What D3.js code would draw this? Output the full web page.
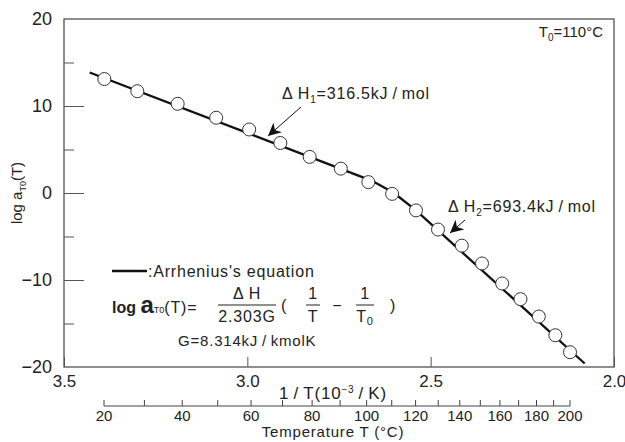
<!DOCTYPE html>
<html lang="en">
<head>
<meta charset="utf-8">
<title>Arrhenius shift factor</title>
<script src="https://d3js.org/d3.v7.min.js"></script>
<style>
  body { margin: 0; background: #fff; }
  text { font-family: "Liberation Sans", Arial, sans-serif; fill: #222; }
  .frame { fill: none; stroke: #444; stroke-width: 1.2; }
  .tick line { stroke: #555; }
  path.domain { display: none; }
  .wide { letter-spacing: 0.8px; }
</style>
</head>
<body>
<div id="chart"></div>
<script>
// values
const invT = [3.39, 3.30, 3.19, 3.085, 2.995, 2.91, 2.83, 2.745, 2.67, 2.605, 2.54, 2.48, 2.415, 2.36, 2.305, 2.255, 2.205, 2.16, 2.12];
const logA = [13.1, 11.7, 10.25, 8.65, 7.3, 5.75, 4.15, 2.8, 1.25, -0.1, -2.0, -4.2, -6.05, -8.1, -10.4, -12.2, -14.2, -16.35, -18.3];
// Arrhenius fit line (two slopes)
const fitInvT = [3.43, 2.66, 2.60, 2.54, 2.08];
const fitLogA = [13.85, 1.4, 0.0, -2.0, -19.6];
const yLabels = [-20, -10, 0, 10, 20];
const yInner = [-15, -10, -5, 0, 5, 10, 15];
const xTicks = [3.5, 3.0, 2.5, 2.0];
const tempTicks = [20, 30, 40, 50, 60, 70, 80, 90, 100, 110, 120, 130, 140, 150, 160, 170, 180, 190, 200];
const tempLabels = [20, 40, 60, 80, 100, 120, 140, 160, 180, 200];

const W = 625, H = 442;
const margin = { top: 19, right: 11, bottom: 75, left: 64 };
const width = W - margin.left - margin.right;
const height = H - margin.top - margin.bottom;

const svg = d3.select('#chart').append('svg')
  .attr('width', W).attr('height', H);
const g = svg.append('g')
  .attr('transform', `translate(${margin.left},${margin.top})`);

const x = d3.scaleLinear().domain([3.5, 2.0]).range([0, width]);
const y = d3.scaleLinear().domain([-20, 20]).range([height, 0]);
// the printed temperature scale sits a little off the 1/T axis, as in the figure
const xTemp = d3.scaleLinear()
  .domain([1000 / 293.15, 1000 / 473.15])
  .range([x(3.5) + 40, x(2.0) - 44]);
const xT = t => xTemp(1000 / (t + 273.15));

// frame
g.append('rect').attr('class', 'frame')
  .attr('x', 0).attr('y', 0).attr('width', width).attr('height', height);

// y ticks inside the frame
g.append('g')
  .call(d3.axisRight(y).tickValues(yInner).tickSize(20).tickFormat(''))
  .selectAll('.tick line')
  .attr('x2', d => d % 10 === 0 ? 20 : 10);

// y labels
g.append('g')
  .call(d3.axisLeft(y).tickValues(yLabels).tickSize(0).tickPadding(12))
  .selectAll('text')
  .style('font-size', '18px');

// x (1/T) axis
g.append('g')
  .attr('transform', `translate(0,${height})`)
  .call(d3.axisBottom(x).tickValues(xTicks).tickSize(-10).tickPadding(8).tickFormat(d3.format('.1f')))
  .selectAll('text')
  .style('font-size', '17px');

// fit line
const line = d3.line().x(d => x(d[0])).y(d => y(d[1]));
g.append('path')
  .datum(d3.zip(fitInvT, fitLogA))
  .attr('d', line)
  .attr('fill', 'none')
  .attr('stroke', '#111')
  .attr('stroke-width', 2.3);

// data points
g.selectAll('circle.pt')
  .data(d3.zip(invT, logA))
  .enter().append('circle')
  .attr('class', 'pt')
  .attr('cx', d => x(d[0]))
  .attr('cy', d => y(d[1]))
  .attr('r', 6.5)
  .attr('fill', '#fff')
  .attr('stroke', '#333')
  .attr('stroke-width', 1);

// temperature axis
const ty = height + 39;
const tAxis = g.append('g').attr('transform', `translate(0,${ty})`);
tAxis.append('line')
  .attr('x1', xT(20)).attr('x2', xT(200))
  .attr('stroke', '#444');
tAxis.selectAll('line.tt')
  .data(tempTicks)
  .enter().append('line')
  .attr('class', 'tt')
  .attr('x1', d => xT(d)).attr('x2', d => xT(d))
  .attr('y1', 0).attr('y2', -6)
  .attr('stroke', '#444');
tAxis.selectAll('text')
  .data(tempLabels)
  .enter().append('text')
  .attr('x', d => xT(d))
  .attr('y', 15)
  .attr('text-anchor', 'middle')
  .style('font-size', '15px')
  .text(d => d);

// axis titles
const xTitle = g.append('text')
  .attr('class', 'wide')
  .attr('x', 269).attr('y', height + 32)
  .attr('text-anchor', 'middle')
  .style('font-size', '17px');
xTitle.append('tspan').text('1\u2009/\u2009T(10');
xTitle.append('tspan').attr('dy', -6).style('font-size', '10px').text('−3');
xTitle.append('tspan').attr('dy', 6).text('\u2009/\u2009K)');

g.append('text')
  .attr('class', 'wide')
  .attr('x', 269).attr('y', height + 70)
  .attr('text-anchor', 'middle')
  .style('font-size', '15px')
  .text('Temperature  T (°C)');

const yTitle = svg.append('text')
  .attr('transform', 'translate(22,193) rotate(-90)')
  .attr('text-anchor', 'middle')
  .style('font-size', '15px');
yTitle.append('tspan').text('log a');
yTitle.append('tspan').attr('dy', 4).style('font-size', '9px').text('T0');
yTitle.append('tspan').attr('dy', -4).text('(T)');

// T0 note
const t0 = svg.append('text')
  .attr('x', 603).attr('y', 37)
  .attr('text-anchor', 'end')
  .style('font-size', '15px');
t0.append('tspan').text('T');
t0.append('tspan').attr('dy', 4).style('font-size', '10px').text('0');
t0.append('tspan').attr('dy', -4).text('=110°C');

// arrows
svg.append('defs').append('marker')
  .attr('id', 'ah')
  .attr('viewBox', '0 0 10 10')
  .attr('refX', 10).attr('refY', 5)
  .attr('markerWidth', 13).attr('markerHeight', 13)
  .attr('markerUnits', 'userSpaceOnUse')
  .attr('orient', 'auto')
  .append('path')
  .attr('d', 'M0,0 L10,5 L0,10 L3,5 Z')
  .attr('fill', '#111');

function note(tx, tyy, sub, rest, ax1, ay1, ax2, ay2) {
  const t = svg.append('text').attr('class', 'wide')
    .attr('x', tx).attr('y', tyy).style('font-size', '16px');
  t.append('tspan').text('Δ H');
  t.append('tspan').attr('dy', 4).style('font-size', '10px').text(sub);
  t.append('tspan').attr('dy', -4).text(rest);
  svg.append('line')
    .attr('x1', ax1).attr('y1', ay1).attr('x2', ax2).attr('y2', ay2)
    .attr('stroke', '#111').attr('stroke-width', 1)
    .attr('marker-end', 'url(#ah)');
}
note(282, 99, '1', '=316.5kJ\u2009/\u2009mol', 301, 107, 268, 136);
note(448, 212, '2', '=693.4kJ\u2009/\u2009mol', 465, 220, 450, 233);

// legend and equation
svg.append('line')
  .attr('x1', 112).attr('x2', 147).attr('y1', 271).attr('y2', 271)
  .attr('stroke', '#111').attr('stroke-width', 2.5);
svg.append('text')
  .attr('class', 'wide')
  .attr('x', 148).attr('y', 277)
  .style('font-size', '16px')
  .text(":Arrhenius's equation");

const eq = svg.append('text').attr('x', 112).attr('y', 313).style('font-size', '16px');
eq.append('tspan').style('font-weight', 'bold').text('log ');
eq.append('tspan').style('font-weight', 'bold').style('font-size', '24px').text('a');
eq.append('tspan').style('font-size', '9px').text('T0');
eq.append('tspan').attr('class', 'wide').text('(T)=');

function frac(cx, num, den, sub, half) {
  svg.append('text').attr('class', 'wide').attr('x', cx).attr('y', 299).attr('text-anchor', 'middle')
    .style('font-size', '16px').text(num);
  svg.append('line').attr('x1', cx - half).attr('x2', cx + half)
    .attr('y1', 305).attr('y2', 305).attr('stroke', '#222').attr('stroke-width', 1);
  const d = svg.append('text').attr('class', 'wide').attr('x', cx).attr('y', 322).attr('text-anchor', 'middle')
    .style('font-size', '16px');
  d.append('tspan').text(den);
  if (sub) d.append('tspan').attr('dy', 3).style('font-size', '11px').text(sub);
}
frac(247, 'Δ H', '2.303G', null, 29);
svg.append('text').attr('x', 281).attr('y', 311).style('font-size', '16px').text('(');
frac(313, '1', 'T', null, 7);
svg.append('text').attr('x', 337).attr('y', 311).attr('text-anchor', 'middle').style('font-size', '16px').text('−');
frac(365, '1', 'T', '0', 9);
svg.append('text').attr('x', 390).attr('y', 311).style('font-size', '16px').text(')');

svg.append('text')
  .attr('class', 'wide')
  .attr('x', 178).attr('y', 346)
  .style('font-size', '15px')
  .text('G=8.314kJ\u2009/\u2009kmolK');
</script>
</body>
</html>
